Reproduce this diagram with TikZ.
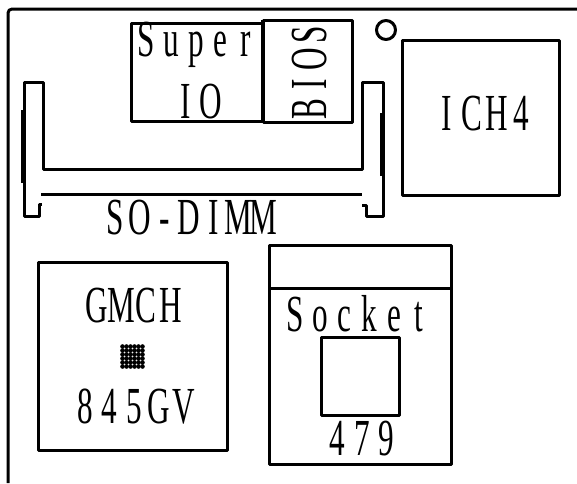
\documentclass[tikz,border=0pt]{standalone}
\usepackage{fontspec,graphicx}
\newfontfamily\boardfont[FakeStretch=0.6]{Liberation Serif}
\usetikzlibrary{positioning}
\makeatletter
\newcommand\boardtext[1]{\@tfor\next:=#1\do{\makebox[24.7pt]{\ifx\next-\scalebox{2.5}[1]{-}\else\next\fi}}}
\makeatother

\begin{document}
\begin{tikzpicture}[
  x=1pt, y=-1pt,
  chip/.style={rectangle, draw=black, line width=3pt, line join=round, inner sep=0pt, outer sep=0pt},
  board/.style={draw=black, line width=3pt, line join=round},
  lbl/.style={anchor=base, inner sep=0pt, font=\fontsize{52}{52}\boardfont}
]
\useasboundingbox (0,0) rectangle (577,483);

% Board outline
\coordinate (bl) at (8,483);
\coordinate (tr) at (577,9);
\draw[board, rounded corners=4pt] (bl) |- (tr);

% Chips
\node[chip, minimum width=131pt, minimum height=98pt] (sio) at (196.5,72) {};
\node[chip, minimum width=89pt, minimum height=102pt] (bios) at (307.5,71) {};
\draw[board, line width=4pt] (bios.north west) -- (bios.south west);
\node[chip, minimum width=157pt, minimum height=155pt] (ich) at (480.5,117.5) {};
\node[chip, minimum width=189pt, minimum height=188pt] (gmch) at (132.5,356) {};
\node[chip, minimum width=182pt, minimum height=219pt] (skt) at (360,355) {};
\node[chip, minimum width=78pt, minimum height=78pt] (cpu) at (360,376) {};
\node[chip, circle, minimum size=19pt] (hole) at (386,30) {};
\coordinate (divl) at (269,288);
\coordinate (divr) at (451,288);
\draw[board] (divl) -- (divr);

% Die in the middle of GMCH
\foreach \i in {0,...,5}
  \foreach \j in {0,...,5}
    \fill (122.5+\i*4,346.5+\j*4) circle (2.3pt);

% SO-DIMM slot
\draw[board] (42,204) -- (39,204) -- (39,216) -- (24,216) -- (24,82) -- (43.5,82) -- (43.5,169)
  -- (362,169) -- (362,82) -- (383,82) -- (383,216) -- (366,216) -- (366,205) -- (362,205);
\draw[board] (41,194) -- (362,194);
\draw[board, line width=4pt] (23,110) -- (23,183);
\draw[board, line width=4pt] (382,113) -- (382,176);

% Labels
\node[lbl] (super) at (196,56) {\boardtext{Super}};
\node[lbl] (io) at (198,118) {\boardtext{IO}};
\node[lbl, rotate=90] (biostxt) at (326,72) {\boardtext{BIOS}};
\node[lbl] (ichtxt) at (484,130) {\boardtext{ICH4}};
\node[lbl] (dimm) at (189,234) {\boardtext{SO-DIMM}};
\node[lbl] (gmchtxt) at (134,322) {\boardtext{GMCH}};
\node[lbl] (gv) at (134.5,423) {\boardtext{845GV}};
\node[lbl] (socket) at (357,331) {\boardtext{Socket}};
\node[lbl] (num) at (362,455) {\boardtext{479}};
\end{tikzpicture}
\end{document}
